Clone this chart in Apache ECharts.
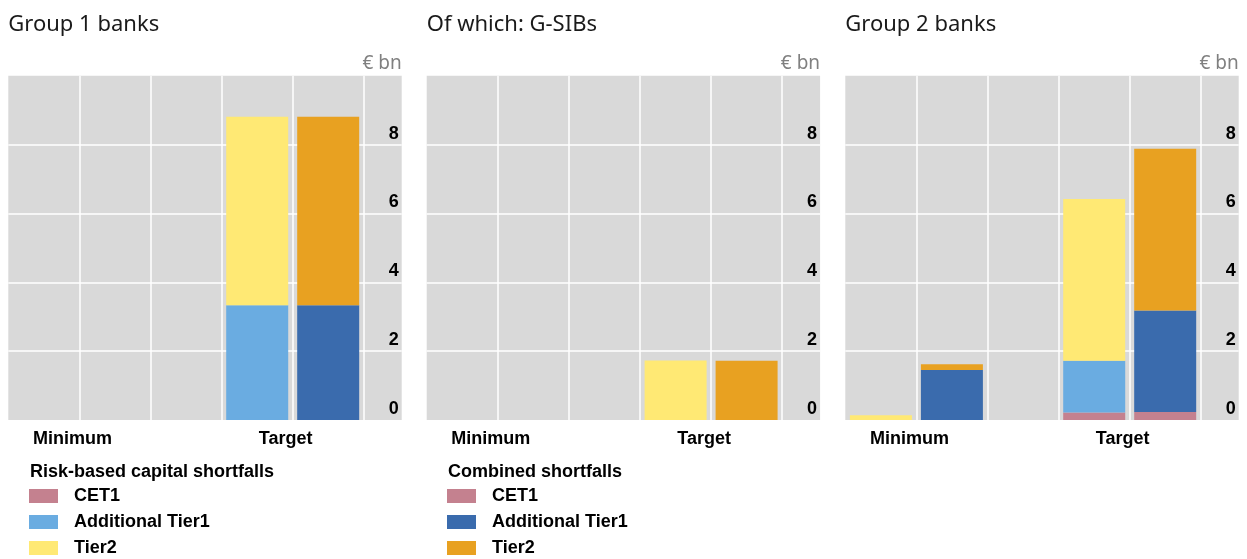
<!DOCTYPE html>
<html>
<head>
<meta charset="utf-8">
<script src="https://cdn.jsdelivr.net/npm/echarts@6/dist/echarts.min.js"></script>
<style>
  html, body { margin: 0; padding: 0; background: #fff; }
  #main { width: 1247px; height: 559px; }
</style>
</head>
<body>
<div id="main"></div>
<script>
// 数据
var categories = ['Minimum', 'Target'];
var panelTitles = ['Group 1 banks', 'Of which: G-SIBs', 'Group 2 banks'];
var yTicks = [0, 2, 4, 6, 8, 10];

// risk-based capital shortfalls  [Minimum, Target]
var rbCET1 = [[0, 0], [0, 0], [0, 0.22]];
var rbAT1  = [[0, 3.33], [0, 0], [0, 1.50]];
var rbTier2 = [[0, 5.48], [0, 1.73], [0.14, 4.70]];

// combined shortfalls
var cbCET1 = [[0, 0], [0, 0], [0, 0.23]];
var cbAT1  = [[0, 3.33], [0, 0], [1.45, 2.95]];
var cbTier2 = [[0, 5.48], [0, 1.72], [0.17, 4.70]];

var rbNames = ['Risk-based: CET1', 'Risk-based: Additional Tier1', 'Risk-based: Tier2'];
var cbNames = ['Combined: CET1', 'Combined: Additional Tier1', 'Combined: Tier2'];
var rbColors = ['#C4818F', '#6AACE1', '#FFE974'];
var cbColors = ['#C4818F', '#3A6BAD', '#E8A121'];

var myChart = echarts.init(document.getElementById('main'));

var panelLeft = [8.3, 426.7, 845.3];
var plotW = 393.4, plotTop = 75.7, plotH = 344.3;
var col = 71.1;
var labelFont = 'Liberation Sans, Arial, sans-serif';

var grids = [], xAxes = [], yAxes = [], series = [], titles = [];

panelTitles.forEach(function (t, p) {
    var L = panelLeft[p];
    titles.push({
        text: t, left: L, top: 14, padding: 0,
        textStyle: { fontFamily: 'Noto Sans', fontSize: 22, fontWeight: 'normal', color: '#1a1a1a' }
    });
    // 单位
    titles.push({
        text: '€ bn', right: 1247 - (L + plotW), top: 54, padding: 0,
        textStyle: { fontFamily: 'Noto Sans', fontSize: 19, fontWeight: 'normal', color: '#808080' }
    });
    // 背景网格 (grey background, white gridlines, value labels)
    grids.push({ left: L, top: plotTop, width: plotW, height: plotH, show: true,
                 backgroundColor: '#D9D9D9', borderWidth: 0, outerBoundsMode: 'none' });
    // 柱子网格 (bars), shifted half a column so groups centre on the gridlines
    grids.push({ left: L - col / 2, top: plotTop, width: col * 6, height: plotH,
                 outerBoundsMode: 'none' });

    xAxes.push({
        type: 'value', gridIndex: 2 * p, min: 0, max: plotW / col, interval: 1,
        axisLine: { show: false }, axisTick: { show: false }, axisLabel: { show: false },
        splitLine: { show: true, showMinLine: false, showMaxLine: false,
                     lineStyle: { color: '#ffffff', width: 1.5 } }
    });
    xAxes.push({
        type: 'category', gridIndex: 2 * p + 1, data: categories,
        axisLine: { show: false }, axisTick: { show: false }, splitLine: { show: false },
        axisLabel: { interval: 0, margin: 10, padding: [0, 14, 0, 0], color: '#000',
                     fontFamily: labelFont, fontWeight: 'bold', fontSize: 18 }
    });
    yAxes.push({
        type: 'value', gridIndex: 2 * p, position: 'right', min: 0, max: 10, interval: 2,
        axisLine: { show: false }, axisTick: { show: false },
        axisLabel: { inside: true, margin: 3, showMaxLabel: false, verticalAlign: 'bottom',
                     padding: [0, 0, 2, 0], color: '#000', fontFamily: labelFont,
                     fontWeight: 'bold', fontSize: 18,
                     formatter: function (v) { return yTicks.indexOf(v) >= 0 ? String(v) : ''; } },
        splitLine: { show: true, showMinLine: false, showMaxLine: false,
                     lineStyle: { color: '#ffffff', width: 1.5 } }
    });
    yAxes.push({
        type: 'value', gridIndex: 2 * p + 1, min: 0, max: 10, show: false,
        splitLine: { show: false }
    });

    var rb = [rbCET1[p], rbAT1[p], rbTier2[p]];
    var cb = [cbCET1[p], cbAT1[p], cbTier2[p]];
    rb.forEach(function (d, i) {
        series.push({
            name: rbNames[i], type: 'bar', stack: 'rb' + p, data: d,
            xAxisIndex: 2 * p + 1, yAxisIndex: 2 * p + 1,
            barWidth: 62, barGap: '14.5%', itemStyle: { color: rbColors[i] }
        });
    });
    cb.forEach(function (d, i) {
        series.push({
            name: cbNames[i], type: 'bar', stack: 'cb' + p, data: d,
            xAxisIndex: 2 * p + 1, yAxisIndex: 2 * p + 1,
            barWidth: 62, barGap: '14.5%', itemStyle: { color: cbColors[i] }
        });
    });
});

var legendHead = { fontFamily: labelFont, fontSize: 18, fontWeight: 'bold', color: '#000' };
titles.push({ text: 'Risk-based capital shortfalls', left: 30, top: 463, padding: 0, textStyle: legendHead });
titles.push({ text: 'Combined shortfalls', left: 448, top: 463, padding: 0, textStyle: legendHead });

function legendFor(names, left) {
    return {
        data: names, left: left, top: 487, orient: 'vertical', padding: 0,
        itemWidth: 29, itemHeight: 14, itemGap: 8, icon: 'rect',
        selectedMode: false,
        formatter: function (n) { return n.split(': ')[1]; },
        textStyle: { fontFamily: labelFont, fontSize: 18, fontWeight: 'bold', color: '#000',
                     lineHeight: 18, padding: [0, 0, 0, 11] }
    };
}

var option = {
    animation: false,
    title: titles,
    grid: grids,
    xAxis: xAxes,
    yAxis: yAxes,
    legend: [legendFor(rbNames, 29), legendFor(cbNames, 447)],
    series: series
};

myChart.setOption(option);
</script>
</body>
</html>
